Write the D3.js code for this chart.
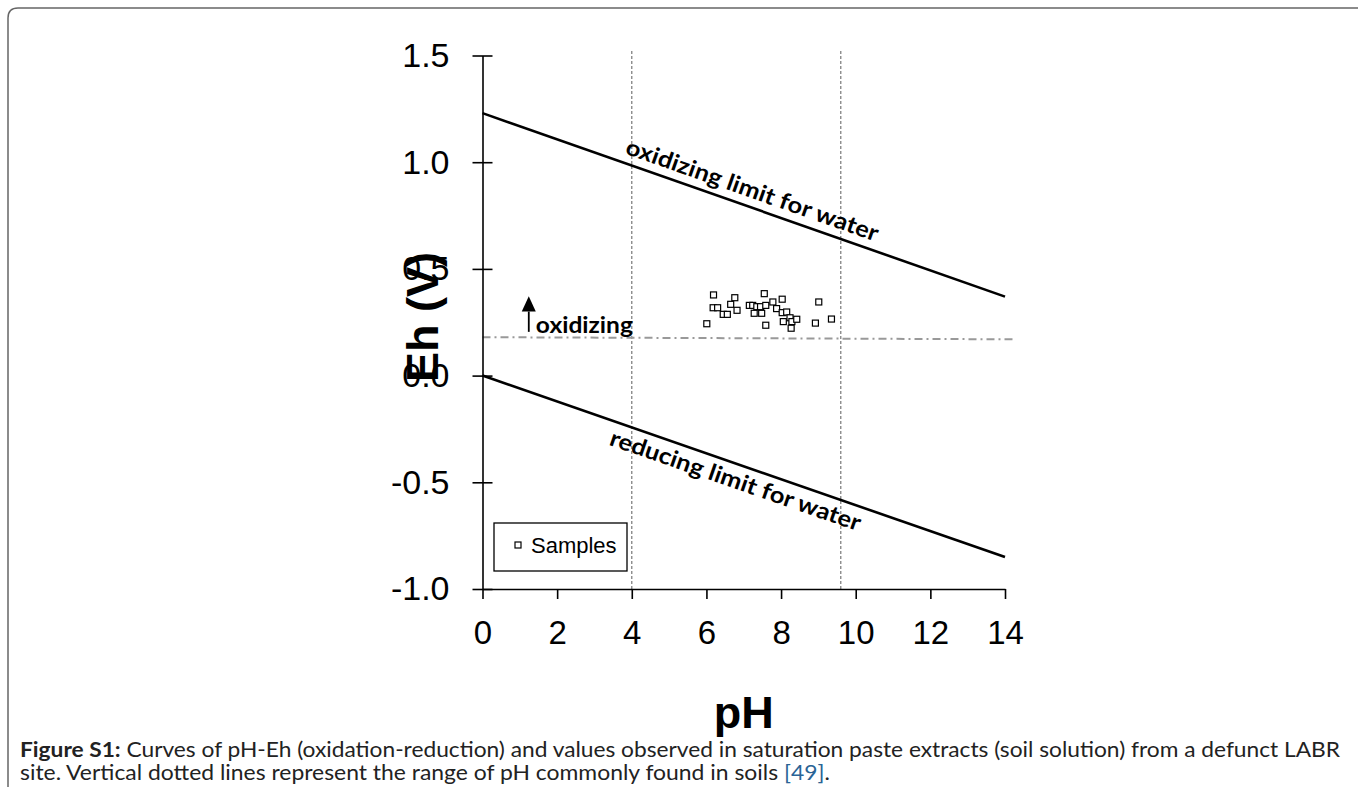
<!DOCTYPE html>
<html>
<head>
<meta charset="utf-8">
<title>pH-Eh</title>
<script src="https://cdn.jsdelivr.net/npm/d3@7"></script>
<style>
  body { margin: 0; background: #fff; }
</style>
</head>
<body>
<script>
// data
var samplePH = [6.19, 6.01, 6.18, 6.30, 6.45, 6.56, 6.65, 6.76, 6.82, 7.15, 7.24, 7.28, 7.35, 7.48, 7.45, 7.55,
                7.59, 7.59, 7.78, 7.88, 8.03, 8.03, 8.15, 8.06, 8.24, 8.29, 8.42, 8.27, 9.01, 8.92, 9.35];
var sampleEh = [0.378, 0.243, 0.318, 0.318, 0.287, 0.287, 0.334, 0.365, 0.306, 0.329, 0.329, 0.292, 0.323, 0.292, 0.323, 0.384,
                0.329, 0.236, 0.345, 0.314, 0.358, 0.295, 0.298, 0.253, 0.271, 0.253, 0.264, 0.222, 0.345, 0.246, 0.265];
var oxLimitPH = [0, 14];
var oxLimitEh = [1.23, 0.37];
var redLimitPH = [0, 14];
var redLimitEh = [0, -0.85];
var refPH = [0, 14.3];        // dash-dot reference
var refEh = [0.18, 0.17];
var soilRangePH = [4, 9.6];   // vertical dotted lines
var xTicks = [0, 2, 4, 6, 8, 10, 12, 14];
var yTicks = [-1.0, -0.5, 0.0, 0.5, 1.0, 1.5];

var W = 1358, H = 787;
var svg = d3.select("body").append("svg").attr("width", W).attr("height", H);

// page frame (rounded top-left corner)
svg.append("path")
  .attr("d", "M8," + H + " L8,18 Q8,8 18,8 L" + W + ",8")
  .attr("fill", "none").attr("stroke", "#666").attr("stroke-width", 1.5);

var x = d3.scaleLinear().domain([0, 14]).range([482.5, 1005]);
var y = d3.scaleLinear().domain([-1, 1.5]).range([589, 55.5]);

// vertical dotted lines
svg.selectAll("line.soil").data(soilRangePH).enter().append("line")
  .attr("class", "soil")
  .attr("x1", function(d) { return x(d); }).attr("x2", function(d) { return x(d); })
  .attr("y1", y(-1)).attr("y2", y(1.53))
  .attr("stroke", "#777").attr("stroke-width", 1.2).attr("stroke-dasharray", "3,2");

// dash-dot line
svg.append("line")
  .attr("x1", x(refPH[0])).attr("y1", y(refEh[0]))
  .attr("x2", x(refPH[1])).attr("y2", y(refEh[1]))
  .attr("stroke", "#999").attr("stroke-width", 2).attr("stroke-dasharray", "8,4,2,4");

// limit lines
var line = d3.line().x(function(d) { return x(d[0]); }).y(function(d) { return y(d[1]); });
svg.append("path").datum(d3.zip(oxLimitPH, oxLimitEh)).attr("d", line)
  .attr("fill", "none").attr("stroke", "#000").attr("stroke-width", 2.6);
svg.append("path").datum(d3.zip(redLimitPH, redLimitEh)).attr("d", line)
  .attr("fill", "none").attr("stroke", "#000").attr("stroke-width", 2.6);

// axes - hyphen minus like the original
var fmt = function(d) { return d3.format(".1f")(d).replace("\u2212", "-"); };
var yAxis = svg.append("g").attr("transform", "translate(" + x(0) + ",0)")
  .call(d3.axisLeft(y).tickValues(yTicks).tickFormat(fmt).tickSizeInner(10).tickSizeOuter(0).tickPadding(23));
yAxis.selectAll(".tick line").attr("x1", 10);
var xAxis = svg.append("g").attr("transform", "translate(0," + y(-1) + ")")
  .call(d3.axisBottom(x).tickValues(xTicks).tickSizeInner(10).tickSizeOuter(0).tickPadding(22));
[yAxis, xAxis].forEach(function(g) {
  g.select(".domain").attr("stroke", "#000").attr("stroke-width", 1.6);
  g.selectAll(".tick line").attr("stroke", "#000").attr("stroke-width", 1.6);
  g.selectAll(".tick text").attr("font-family", "Liberation Sans, Arial, sans-serif").attr("fill", "#000");
});
yAxis.selectAll(".tick text").attr("font-size", "34px");
xAxis.selectAll(".tick text").attr("font-size", "33px");

// axis titles
svg.append("text").text("pH")
  .attr("x", (x(0) + x(14)) / 2).attr("y", 728)
  .attr("text-anchor", "middle")
  .attr("font-family", "Liberation Sans, Arial, sans-serif").attr("font-weight", "bold").attr("font-size", "45px");
svg.append("text").text("Eh (V)")
  .attr("transform", "translate(438,317) rotate(-90)")
  .attr("text-anchor", "middle")
  .attr("font-family", "Liberation Sans, Arial, sans-serif").attr("font-weight", "bold").attr("font-size", "45px");

// sloped labels
function slopedLabel(txt, ph0, eh0, ph1, eh1, startPH, offset, len) {
  var ang = Math.atan2(y(eh1) - y(eh0), x(ph1) - x(ph0)) * 180 / Math.PI;
  var t = (startPH - ph0) / (ph1 - ph0);
  var ex = x(startPH), ey = y(eh0 + t * (eh1 - eh0));
  svg.append("text").text(txt)
    .attr("transform", "translate(" + ex + "," + ey + ") rotate(" + ang + ")")
    .attr("y", offset)
    .attr("textLength", len).attr("lengthAdjust", "spacingAndGlyphs")
    .attr("font-family", "Lato, Carlito, sans-serif").attr("font-weight", "bold").attr("font-size", "23px");
}
slopedLabel("oxidizing limit for water", oxLimitPH[0], oxLimitEh[0], oxLimitPH[1], oxLimitEh[1], 3.72, -9, 266);
slopedLabel("reducing limit for water", redLimitPH[0], redLimitEh[0], redLimitPH[1], redLimitEh[1], 3.58, 24, 264);

// oxidizing arrow
svg.append("line")
  .attr("x1", x(1.24)).attr("x2", x(1.24))
  .attr("y1", y(0.205)).attr("y2", y(0.3))
  .attr("stroke", "#000").attr("stroke-width", 1.8);
svg.append("path")
  .attr("d", "M" + x(1.24) + "," + y(0.372) + " L" + (x(1.24) - 7) + "," + y(0.3) + " L" + (x(1.24) + 7) + "," + y(0.3) + " Z")
  .attr("fill", "#000");
svg.append("text").text("oxidizing")
  .attr("x", x(1.43)).attr("y", y(0.2))
  .attr("textLength", 97).attr("lengthAdjust", "spacingAndGlyphs")
  .attr("font-family", "Lato, Carlito, sans-serif").attr("font-weight", "bold").attr("font-size", "23px");

// samples
svg.selectAll("rect.sample").data(d3.zip(samplePH, sampleEh)).enter().append("rect")
  .attr("class", "sample")
  .attr("x", function(d) { return x(d[0]) - 3; })
  .attr("y", function(d) { return y(d[1]) - 3; })
  .attr("width", 6).attr("height", 6)
  .attr("fill", "#fff").attr("stroke", "#000").attr("stroke-width", 1.2);

// legend
svg.append("rect").attr("x", 494).attr("y", 523).attr("width", 133).attr("height", 48)
  .attr("fill", "#fff").attr("stroke", "#000").attr("stroke-width", 1.3);
svg.append("rect").attr("x", 515).attr("y", 542).attr("width", 6).attr("height", 6)
  .attr("fill", "#fff").attr("stroke", "#000").attr("stroke-width", 1.2);
svg.append("text").text("Samples").attr("x", 531).attr("y", 553)
  .attr("font-family", "Liberation Sans, Arial, sans-serif").attr("font-size", "22px");

// caption
var cap1 = svg.append("text").attr("x", 20).attr("y", 757)
  .attr("font-family", "Lato, Carlito, sans-serif").attr("font-size", "21px").attr("fill", "#222")
  .attr("textLength", 1320).attr("lengthAdjust", "spacingAndGlyphs");
cap1.append("tspan").attr("font-weight", "bold").text("Figure S1:");
cap1.append("tspan").text(" Curves of pH-Eh (oxidation-reduction) and values observed in saturation paste extracts (soil solution) from a defunct LABR");
var cap2 = svg.append("text").attr("x", 20).attr("y", 780)
  .attr("font-family", "Lato, Carlito, sans-serif").attr("font-size", "21px").attr("fill", "#222")
  .attr("textLength", 810).attr("lengthAdjust", "spacingAndGlyphs");
cap2.append("tspan").text("site. Vertical dotted lines represent the range of pH commonly found in soils ");
cap2.append("tspan").attr("fill", "#2a6496").text("[49]");
cap2.append("tspan").text(".");
</script>
</body>
</html>
